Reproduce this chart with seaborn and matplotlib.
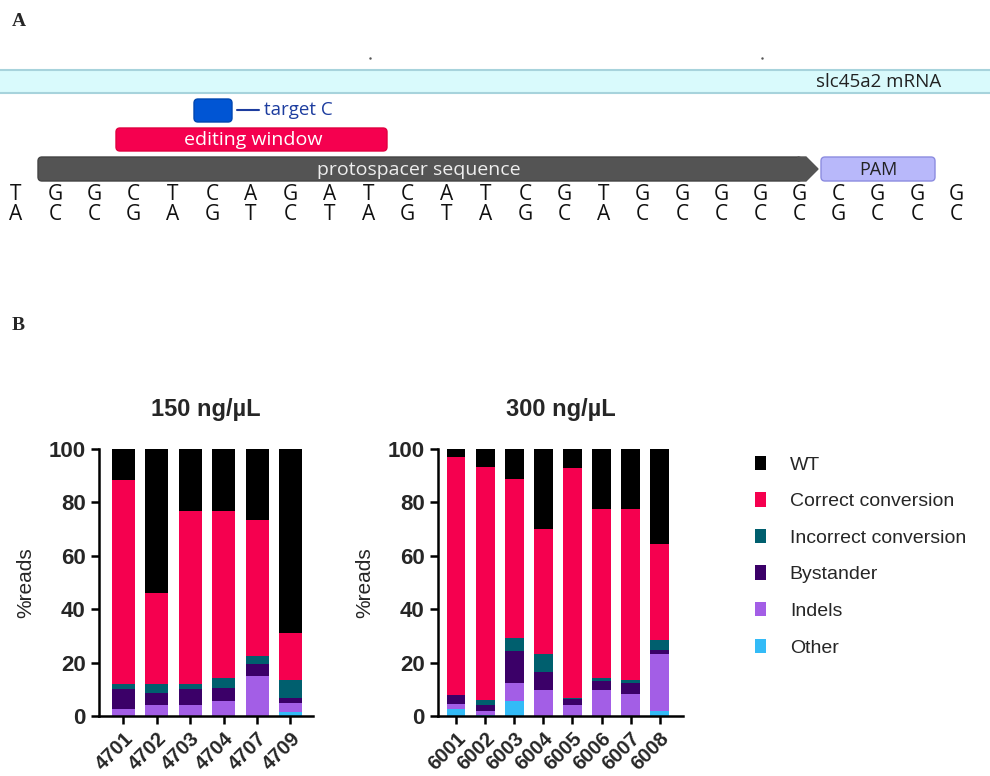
import matplotlib
matplotlib.use("Agg")
import matplotlib.pyplot as plt
from matplotlib.patches import FancyBboxPatch, Polygon, Patch
import pandas as pd
import seaborn as sns

# ---- data ----
categories = ["WT", "Correct conversion", "Incorrect conversion", "Bystander", "Indels", "Other"]
colors = ["#000000", "#f5004f", "#005f6e", "#3b0068", "#a35ee6", "#33bbf7"]

samples_150 = ["4701", "4702", "4703", "4704", "4707", "4709"]
other_150 = [0, 0, 0, 0, 0, 1.5]
indels_150 = [2.5, 4.25, 4.25, 5.6, 14.9, 3.4]
bystander_150 = [7.5, 4.5, 6.0, 5.0, 4.7, 1.7]
incorrect_150 = [2.1, 3.15, 1.65, 3.8, 2.8, 7.0]
correct_150 = [76.3, 34.0, 65.0, 62.5, 51.0, 17.5]
wt_150 = [11.6, 54.1, 23.1, 23.1, 26.6, 68.9]

samples_300 = ["6001", "6002", "6003", "6004", "6005", "6006", "6007", "6008"]
other_300 = [2.5, 0.3, 5.6, 0, 0, 0, 0, 1.75]
indels_300 = [2.1, 1.5, 6.8, 9.9, 4.25, 9.9, 8.1, 21.35]
bystander_300 = [3.1, 2.25, 11.85, 6.6, 2.25, 3.2, 4.3, 1.5]
incorrect_300 = [0.2, 2.1, 5.15, 6.6, 0.25, 1.15, 1.0, 4.0]
correct_300 = [89.3, 87.3, 59.35, 46.8, 86.25, 63.35, 64.2, 36.0]
wt_300 = [2.9, 6.6, 11.25, 30.1, 7.0, 22.4, 22.4, 35.4]

top_strand = "TGGCTCAGATCATCGTGGGGGCGGG"
bottom_strand = "ACCGAGTCTAGTAGCACCCCCGCCC"

sns.set_style("white")
plt.rcParams['font.family'] = ['Liberation Sans', 'DejaVu Sans']

fig = plt.figure(figsize=(9.9, 7.76), dpi=100)

######
# panel A: sequence map drawn in pixel coordinates
######
axA = fig.add_axes([0, 0, 1, 1], zorder=0)
axA.set_xlim(0, 990)
axA.set_ylim(776, 0)
axA.axis("off")

seq_font = "Open Sans"
axA.text(12, 22, "A", fontsize=14, fontweight="bold", family="Liberation Serif", va="center")
axA.text(12, 325, "B", fontsize=14, fontweight="bold", family="Liberation Serif", va="center")
axA.plot([370, 762], [58, 58], ls="none", marker=".", ms=1.5, color="#555555")

# mRNA band
axA.add_patch(plt.Rectangle((-2, 70), 994, 23, facecolor="#d9fafc", edgecolor="#a7d3dc", lw=1.5))
axA.text(941, 82, "slc45a2 mRNA", family=seq_font, fontsize=13.5, ha="right", va="center", color="#222222")

# target C
axA.add_patch(FancyBboxPatch((196, 101), 34, 19, boxstyle="round,pad=2,rounding_size=4",
                             facecolor="#0055d4", edgecolor="#0046b0", lw=1))
axA.plot([237, 259], [110, 110], color="#1d3d9f", lw=1.5)
axA.text(264, 110, "target C", family=seq_font, fontsize=13.5, va="center", color="#1d3d9f")

# editing window
axA.add_patch(FancyBboxPatch((118, 130), 267, 19, boxstyle="round,pad=2,rounding_size=4",
                             facecolor="#f5004f", edgecolor="#e0003f", lw=1))
axA.text(253, 140, "editing window", family=seq_font, fontsize=14, ha="center", va="center", color="white")

# protospacer arrow
axA.add_patch(FancyBboxPatch((40, 159), 760, 20, boxstyle="round,pad=2,rounding_size=4",
                             facecolor="#545454", edgecolor="#444444", lw=1))
axA.add_patch(Polygon([[798, 157], [806, 157], [818, 169], [806, 181], [798, 181]], closed=True,
                      facecolor="#545454", edgecolor="#545454", lw=1))
axA.text(419, 170, "protospacer sequence", family=seq_font, fontsize=14, ha="center", va="center", color="#eeeeee")

# PAM
axA.add_patch(FancyBboxPatch((823, 159), 110, 20, boxstyle="round,pad=2,rounding_size=4",
                             facecolor="#b8b8fa", edgecolor="#8c8ce0", lw=1))
axA.text(878, 170, "PAM", family=seq_font, fontsize=13, ha="center", va="center", color="#222222")

step = (956 - 16) / (len(top_strand) - 1)
for i, (t, b) in enumerate(zip(top_strand, bottom_strand)):
    axA.text(16 + i * step, 195, t, family=seq_font, fontsize=15, ha="center", va="center", color="#111111")
    axA.text(16 + i * step, 214, b, family=seq_font, fontsize=15, ha="center", va="center", color="#111111")

######
# panel B: stacked bars
######
def stacked(ax, samples, layers, width, title):
    # layers bottom -> top: Other, Indels, Bystander, Incorrect, Correct, WT
    rows = []
    for j, s in enumerate(samples):
        cum = 0
        for name, vals in layers:
            cum += vals[j]
            rows.append({"sample": s, "category": name, "top": cum})
    df = pd.DataFrame(rows)
    for name in categories:  # tallest first so shorter ones paint over
        sub = df[df["category"] == name]
        sns.barplot(data=sub, x="sample", y="top", order=samples, ax=ax, width=width,
                    color=colors[categories.index(name)], saturation=1, linewidth=0, errorbar=None)
    ax.set_ylim(0, 100)
    ax.set_yticks([0, 20, 40, 60, 80, 100])
    ax.set_xlabel("")
    ax.set_ylabel("%reads", fontsize=15, labelpad=10)
    ax.set_title(title, fontsize=17, fontweight="bold", pad=24)
    sns.despine(ax=ax)
    for sp in ["left", "bottom"]:
        ax.spines[sp].set_linewidth(1.8)
        ax.spines[sp].set_color("black")
    ax.tick_params(axis="both", length=6, width=1.8, color="black", direction="out",
                   left=True, bottom=True)
    ax.tick_params(axis="y", labelsize=16)
    ax.tick_params(axis="x", labelsize=14.5)
    for lab in ax.get_yticklabels():
        lab.set_fontweight("bold")
    for lab in ax.get_xticklabels():
        lab.set_fontweight("bold")
        lab.set_rotation(45)
        lab.set_ha("right")
        lab.set_rotation_mode("anchor")

ax1 = fig.add_axes([0.1, 0.0773, 0.216, 0.344], zorder=2)
stacked(ax1, samples_150,
        [("Other", other_150), ("Indels", indels_150), ("Bystander", bystander_150),
         ("Incorrect conversion", incorrect_150), ("Correct conversion", correct_150), ("WT", wt_150)],
        0.69, "150 ng/µL")
ax1.set_xlim(-0.73, 5.67)

ax2 = fig.add_axes([0.4424, 0.0773, 0.2475, 0.344], zorder=2)
stacked(ax2, samples_300,
        [("Other", other_300), ("Indels", indels_300), ("Bystander", bystander_300),
         ("Incorrect conversion", incorrect_300), ("Correct conversion", correct_300), ("WT", wt_300)],
        0.65, "300 ng/µL")
ax2.set_xlim(-0.62, 7.8)

handles = [Patch(facecolor=c, edgecolor="none", label=n) for n, c in zip(categories, colors)]
fig.legend(handles=handles, loc="upper left", bbox_to_anchor=(747 / 990, 1 - 448 / 776),
           frameon=False, fontsize=14, handlelength=0.6, handleheight=0.75,
           handletextpad=1.2, labelspacing=0.96, borderaxespad=0)

fig.savefig("out.png", dpi=100)
